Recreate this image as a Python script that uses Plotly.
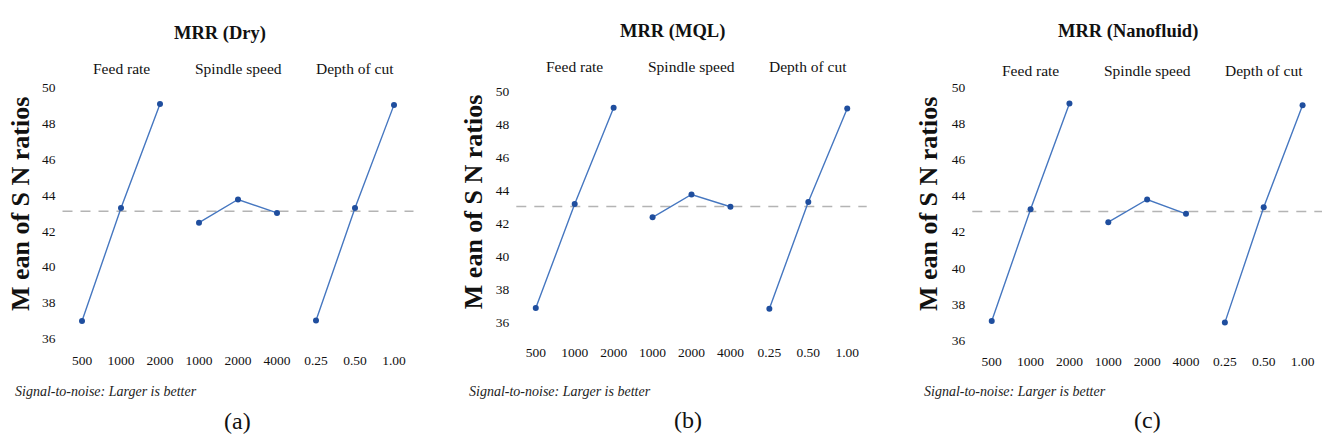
import plotly.graph_objects as go
import numpy as np

# ---------------- data ----------------
factors = ["Feed rate", "Spindle speed", "Depth of cut"]
levels = [["500", "1000", "2000"], ["1000", "2000", "4000"], ["0.25", "0.50", "1.00"]]
panel_titles = ["MRR (Dry)", "MRR (MQL)", "MRR (Nanofluid)"]
panel_tags = ["(a)", "(b)", "(c)"]
y_ticks = [36, 38, 40, 42, 44, 46, 48, 50]
y_title = "M ean of S N ratios"
footnote = "Signal-to-noise: Larger is better"

# mean S/N ratio per level, one list per factor
dry_sn = [[36.97, 43.27, 49.08], [42.46, 43.75, 43.00], [37.00, 43.27, 49.03]]
mql_sn = [[36.88, 43.16, 48.97], [42.36, 43.74, 43.00], [36.84, 43.29, 48.93]]
nano_sn = [[37.07, 43.24, 49.08], [42.53, 43.78, 42.99], [36.98, 43.35, 48.99]]
panels_sn = [dry_sn, mql_sn, nano_sn]

# ---------------- layout geometry (pixels) ----------------
W, H = 1323, 444
# left, right, top(=50), bottom(=36) of each panel's plotting area
panel_box = [(62.5, 413.5, 83.3, 343.0), (516.3, 866.7, 86.7, 326.7), (972.3, 1322.0, 82.7, 345.0)]
title_pos = [(220, 27), (673, 25), (1128, 25)]
factor_y = [64, 62, 66]
ytitle_pos = [(20, 204), (473, 202), (928, 204)]
foot_pos = [(13, 398), (467, 398), (922, 398)]
tag_pos = [(237, 428), (688, 427), (1147, 427)]
xlab_standoff = [12, 20, 11]

LINE = "#4677c0"
MARK = "#1f4e9e"
GREY = "#b4b4b4"
SERIF = "Liberation Serif, Times New Roman, serif"

def px(x):
    return x / W

def py(y):
    return 1 - y / H

fig = go.Figure()
layout = {}
annotations = []
shapes = []

for p in range(3):
    left, right, top, bottom = panel_box[p]
    colw = (right - left) / 3
    yname = "y" if p == 0 else f"y{p + 1}"
    ykey = "yaxis" if p == 0 else f"yaxis{p + 1}"
    first_x = None
    for f in range(3):
        k = p * 3 + f + 1
        xname = "x" if k == 1 else f"x{k}"
        xkey = "xaxis" if k == 1 else f"xaxis{k}"
        if first_x is None:
            first_x = xname
        fig.add_trace(go.Scatter(
            x=levels[f], y=panels_sn[p][f], xaxis=xname, yaxis=yname,
            mode="lines+markers",
            line=dict(color=LINE, width=1.4),
            marker=dict(color=MARK, size=6),
            showlegend=False, cliponaxis=False,
        ))
        layout[xkey] = dict(
            domain=[px(left + f * colw), px(left + (f + 1) * colw)],
            anchor=yname, type="category", categoryorder="array",
            categoryarray=levels[f], range=[-0.5, 2.5],
            showgrid=False, zeroline=False, showline=False, ticks="",
            ticklabelstandoff=xlab_standoff[p],
            tickfont=dict(family=SERIF, size=13.5, color="#111"),
            fixedrange=True,
        )
        annotations.append(dict(
            text=factors[f], xref="paper", yref="paper",
            x=px(left + (f + 0.5) * colw), y=py(factor_y[p]),
            showarrow=False, xanchor="center", yanchor="middle",
            font=dict(family=SERIF, size=15.5, color="#111"),
        ))
    layout[ykey] = dict(
        domain=[py(bottom), py(top)], anchor=first_x,
        range=[36, 50], tickvals=y_ticks,
        showgrid=False, zeroline=False, showline=False, ticks="",
        ticklabelstandoff=6,
        tickfont=dict(family=SERIF, size=13.5, color="#111"),
        fixedrange=True,
    )
    # grand mean reference line
    gmean = float(np.mean(panels_sn[p]))
    shapes.append(dict(
        type="line", xref="paper", yref=yname,
        x0=px(left), x1=px(right), y0=gmean, y1=gmean,
        line=dict(color=GREY, width=1.5, dash="10px,8px"), layer="below",
    ))
    annotations.append(dict(
        text="<b>" + panel_titles[p] + "</b>", xref="paper", yref="paper",
        x=px(title_pos[p][0]), y=py(title_pos[p][1]), showarrow=False,
        xanchor="center", yanchor="middle",
        font=dict(family=SERIF, size=18.5, color="#111"),
    ))
    annotations.append(dict(
        text="<b>" + y_title + "</b>", xref="paper", yref="paper",
        x=px(ytitle_pos[p][0]), y=py(ytitle_pos[p][1]), showarrow=False,
        textangle=-90, xanchor="center", yanchor="middle",
        font=dict(family=SERIF, size=26, color="#111"),
    ))
    annotations.append(dict(
        text="<i>" + footnote + "</i>", xref="paper", yref="paper",
        x=px(foot_pos[p][0]), y=py(foot_pos[p][1]), showarrow=False,
        xanchor="left", yanchor="middle",
        font=dict(family=SERIF, size=14, color="#222"),
    ))
    annotations.append(dict(
        text=panel_tags[p], xref="paper", yref="paper",
        x=px(tag_pos[p][0]), y=py(tag_pos[p][1]), showarrow=False,
        xanchor="center", yanchor="middle",
        font=dict(family=SERIF, size=24, color="#111"),
    ))

fig.update_layout(
    width=W, height=H,
    margin=dict(l=0, r=0, t=0, b=0),
    paper_bgcolor="white", plot_bgcolor="white",
    annotations=annotations, shapes=shapes,
    showlegend=False,
    **layout,
)

fig.write_html(
    "out.html",
    config={"displayModeBar": False},
    post_script="document.body.style.margin='0px';document.body.style.overflow='hidden';",
)
